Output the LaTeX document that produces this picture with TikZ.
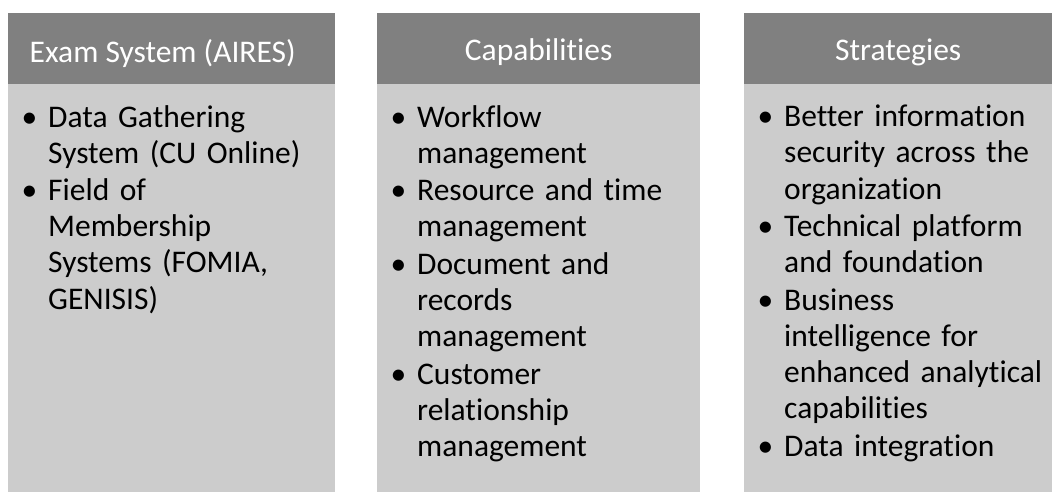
\documentclass[tikz,border=0pt]{standalone}
\usepackage{fontspec}
\setmainfont[Ligatures={NoCommon}]{Carlito}
\usetikzlibrary{positioning}

\definecolor{headgray}{gray}{0.50}
\definecolor{bodygray}{gray}{0.80}
\newcommand{\bul}{\noindent\llap{\textbullet\hspace{11pt}}}

\tikzset{
  headbox/.style={fill=headgray, text=white, minimum height=71pt, anchor=north west, inner sep=0pt,
    text height=30pt, text depth=6pt, font=\fontsize{31.5}{36.6}\selectfont},
  bodybox/.style={fill=bodygray, anchor=north west, inner sep=0pt},
  itemtext/.style={anchor=north west, inner sep=0pt, text width=300pt, align=left,
    font=\fontsize{31.5}{36.1}\selectfont\setlength{\parskip}{1.5pt}}
}

\begin{document}
\begin{tikzpicture}[x=1pt,y=-1pt]
\useasboundingbox (0,0) rectangle (1052,492);

% column boxes
\node[bodybox, minimum width=327pt, minimum height=408pt] (examBody) at (8,84) {};
\node[bodybox, minimum width=323pt, minimum height=408pt] (capBody) at (377,84) {};
\node[bodybox, minimum width=308pt, minimum height=408pt] (stratBody) at (744,84) {};

\node[headbox, minimum width=327pt, text height=34pt] (examHead) at (8,13) {Exam System (AIRES)\rule{18pt}{0pt}};
\node[headbox, minimum width=323pt] (capHead) at (377,13) {Capabilities};
\node[headbox, minimum width=308pt] (stratHead) at (744,13) {Strategies};

% bullet lists
\node[itemtext] (examList) at (48,105) {\bul Data Gathering\\System (CU Online)\par
\bul Field of\\Membership\\Systems (FOMIA,\\GENISIS)};
\node[itemtext] (capList) at (417,105) {\bul Workflow\\management\par
\bul Resource and time\\management\par
\bul Document and\\records\\management\par
\bul Customer\\relationship\\management};
\node[itemtext] (stratList) at (784,105) {\bul Better information\\security across the\\organization\par
\bul Technical platform\\and foundation\par
\bul Business\\intelligence for\\enhanced analytical\\capabilities\par
\bul Data integration};

\end{tikzpicture}
\end{document}
